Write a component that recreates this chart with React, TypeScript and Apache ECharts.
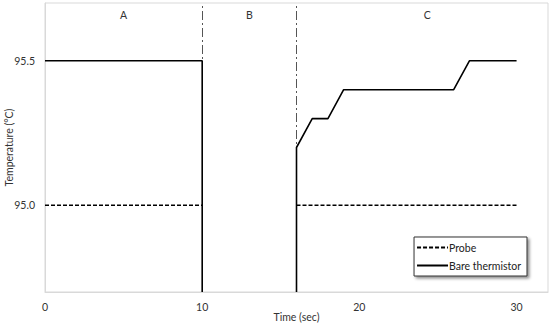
import React, { useEffect, useRef } from "react";
import * as echarts from "echarts";

const probeTime = [0, 10, 13, 16, 30];
const probeTemp: (number | null)[] = [95.0, 95.0, null, 95.0, 95.0];
const bareTime = [0, 10, 10, 13, 16, 16, 17, 18, 19, 26, 27, 30];
const bareTemp: (number | null)[] = [95.5, 95.5, 94.7, null, 94.7, 95.2, 95.3, 95.3, 95.4, 95.4, 95.5, 95.5];
const phaseNames = ["A", "B", "C"];
const phaseBounds = [0, 10, 16, 32];
const xTickLabels = [0, 10, 20, 30];
const yTickLabels = [95.0, 95.5];

const FONT = "Lato, 'Open Sans', sans-serif";

export default function App() {
  const ref = useRef<HTMLDivElement>(null);
  useEffect(() => {
    if (!ref.current) return;
    const chart = echarts.init(ref.current, undefined, { renderer: "svg" });
    const toPairs = (xs: number[], ys: (number | null)[]) =>
      xs.map((x, i) => [x, ys[i] === null ? "-" : ys[i]]);
    chart.setOption({
      animation: false,
      backgroundColor: "#fff",
      textStyle: { fontFamily: FONT },
      grid: {
        left: 45,
        right: 2,
        top: 3,
        bottom: 34,
        containLabel: false,
        outerBoundsMode: "none",
        show: true,
        borderColor: "#d9d9d9",
        borderWidth: 1,
      },
      legend: {
        orient: "vertical",
        right: 23,
        top: 237,
        backgroundColor: "#fff",
        borderColor: "#333",
        borderWidth: 1,
        padding: [5, 6, 5, 2],
        itemGap: 7,
        itemWidth: 31,
        itemHeight: 10,
        itemStyle: { opacity: 0 },
        shadowBlur: 3,
        shadowOffsetX: 2,
        shadowOffsetY: 2,
        shadowColor: "rgba(0,0,0,0.45)",
        textStyle: { fontFamily: FONT, fontSize: 10.5, color: "#222", padding: [0, 0, 0, -4] },
        data: ["Probe", "Bare thermistor"],
      },
      xAxis: {
        type: "value",
        min: 0,
        max: 32,
        interval: 10,
        name: "Time (sec)",
        nameLocation: "middle",
        nameGap: 19,
        nameMoveOverlap: false,
        nameTextStyle: { fontFamily: FONT, fontSize: 10.5, color: "#333" },
        axisLine: { show: true, lineStyle: { color: "#d9d9d9" } },
        axisTick: { show: false },
        splitLine: { show: false },
        axisLabel: {
          margin: 9,
          fontSize: 10.5,
          color: "#333",
          fontFamily: FONT,
          formatter: (v: number) => (xTickLabels.includes(v) ? String(v) : ""),
        },
      },
      yAxis: {
        type: "value",
        min: 94.7,
        max: 95.7,
        interval: 0.1,
        name: "Temperature (°C)",
        nameLocation: "middle",
        nameGap: 31,
        nameMoveOverlap: false,
        nameTextStyle: { fontFamily: FONT, fontSize: 10.5, color: "#333" },
        axisLine: { show: true, lineStyle: { color: "#d9d9d9" } },
        axisTick: { show: false },
        splitLine: { show: false },
        axisLabel: {
          margin: 10,
          fontSize: 10.5,
          color: "#333",
          fontFamily: FONT,
          formatter: (v: number) => {
            const t = yTickLabels.find((y) => Math.abs(y - v) < 1e-6);
            return t === undefined ? "" : t.toFixed(1);
          },
        },
      },
      series: [
        {
          name: "Probe",
          type: "line",
          data: toPairs(probeTime, probeTemp),
          symbol: "none",
          connectNulls: false,
          z: 3,
          lineStyle: { color: "#000", width: 1.5, type: [4, 2] },
          itemStyle: { color: "#000" },
          markLine: {
            silent: true,
            symbol: "none",
            z: 1,
            label: { show: false },
            lineStyle: { color: "#555", width: 1, type: [9, 3, 2, 3] },
            data: phaseBounds.slice(1, 3).map((b) => ({ xAxis: b })),
          },
          markArea: {
            silent: true,
            itemStyle: { color: "rgba(0,0,0,0)" },
            label: {
              show: true,
              position: "insideTop",
              distance: 6,
              fontSize: 10.5,
              color: "#333",
              fontFamily: FONT,
            },
            data: phaseNames.map((n, i) => [
              {
                name: n,
                xAxis: phaseBounds[i],
                label: i === 2 ? { offset: [5, 0] } : undefined,
              },
              { xAxis: phaseBounds[i + 1] },
            ]),
          },
        },
        {
          name: "Bare thermistor",
          type: "line",
          data: toPairs(bareTime, bareTemp),
          symbol: "none",
          connectNulls: false,
          z: 4,
          lineStyle: { color: "#000", width: 1.6, type: "solid" },
          itemStyle: { color: "#000" },
        },
      ],
    });
    return () => chart.dispose();
  }, []);
  return (
    <div
      ref={ref}
      style={{ position: "fixed", left: 0, top: 0, width: 550, height: 326 }}
    />
  );
}
